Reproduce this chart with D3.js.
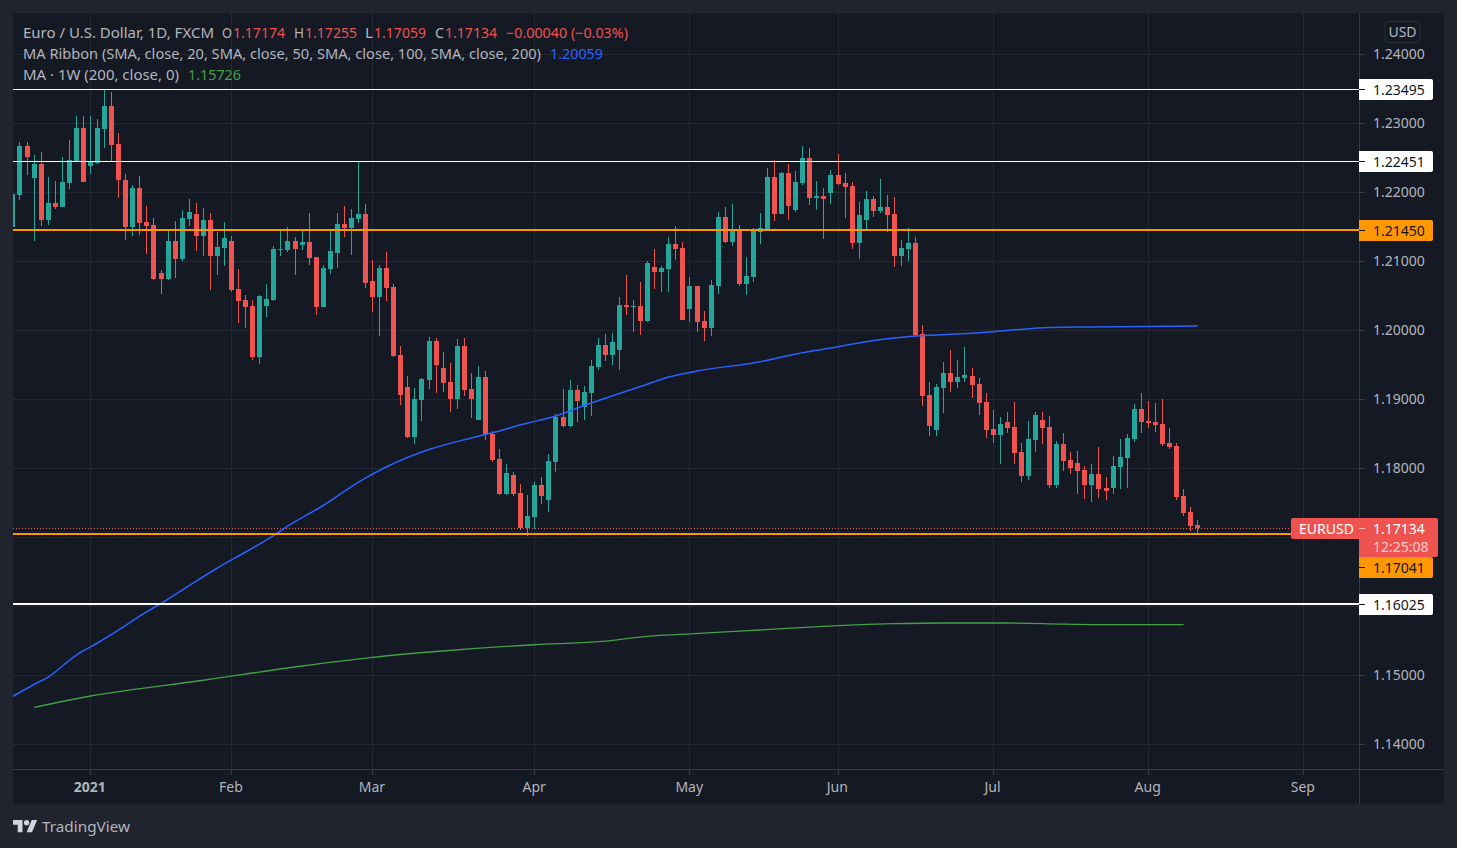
<!DOCTYPE html>
<html>
<head>
<meta charset="utf-8">
<title>EURUSD</title>
<script src="https://cdn.jsdelivr.net/npm/d3@7/dist/d3.min.js"></script>
<style>
  html, body { margin: 0; padding: 0; background: #1f242f; overflow: hidden; }
  svg text { font-family: "Noto Sans", sans-serif; }
</style>
</head>
<body>
<svg id="chart" width="1457" height="848"></svg>
<script>
// daily candles, first one is cut off by the left edge of the pane
const firstIndex = -1;
const opens = [1.21497,1.21961,1.22671,1.22207,1.22410,1.21599,1.21845,1.21787,1.22135,1.22454,1.22932,1.22381,1.22425,1.22917,1.23251,1.22700,1.22178,1.21497,1.22062,1.21570,1.21526,1.20830,1.20743,1.21294,1.21033,1.21613,1.21685,1.21367,1.21599,1.21077,1.21193,1.21294,1.20599,1.20439,1.20352,1.19613,1.20352,
  1.20439,1.21164,1.21164,1.21294,1.21236,1.21280,1.21062,1.20338,1.20888,1.21120,1.21541,1.21483,1.21613,1.21685,1.20714,1.20483,1.20903,1.20628,1.19642,1.19178,1.18454,1.18990,1.19280,1.19845,1.19454,1.19251,1.19004,1.19772,1.19149,1.18700,1.19323,1.18497,1.18135,1.17627,1.17903,1.17642,1.17135,
  1.17294,1.17758,1.17541,1.18091,1.18744,1.18613,1.19135,1.18888,1.19091,1.19468,1.19787,1.19642,1.19714,1.20367,1.20338,1.20352,1.20135,1.20917,1.20845,1.20888,1.21251,1.21193,1.20309,1.20642,1.20135,1.20033,
  1.20642,1.21642,1.21280,1.21468,1.20671,1.20772,1.21425,1.21468,1.22222,1.21686,1.22280,1.21744,1.22135,1.22497,1.21917,1.21946,1.21990,1.22251,1.22135,1.22091,1.21265,1.21599,1.21903,1.21729,1.21787,1.21686,1.21077,1.21178,1.21265,1.19946,1.19062,1.18555,1.19164,1.19381,1.19251,
  1.19309,1.19338,1.19222,1.18961,1.18570,1.18483,1.18671,1.18599,1.18236,1.17888,1.18410,1.18700,1.18599,1.17758,1.18352,1.18120,1.18077,1.17975,1.17758,1.17917,1.17714,1.17714,1.18019,1.18149,1.18425,1.18859,1.18685,1.18671,1.18642,1.18367,1.18323,1.17598,1.17367,1.17174];
const highs = [1.21975,1.22729,1.22729,1.22541,1.22584,1.22222,1.22164,1.22512,1.22758,1.23106,1.23106,1.23106,1.23062,1.23497,1.23454,1.22859,1.22265,1.22106,1.22236,1.21801,1.21628,1.20874,1.21454,1.21584,1.21743,1.21903,1.21845,1.21772,1.21700,1.21425,1.21570,1.21367,1.20888,1.20512,1.20439,1.20512,1.20671,
  1.21217,1.21454,1.21497,1.21352,1.21454,1.21700,1.21062,1.20946,1.21454,1.21700,1.21801,1.21758,1.22439,1.21830,1.21019,1.20946,1.21135,1.20671,1.19772,1.19338,1.19164,1.19309,1.19903,1.19888,1.19685,1.19526,1.19874,1.19888,1.19381,1.19482,1.19410,1.18541,1.18280,1.18062,1.17946,1.17772,1.17613,
  1.17801,1.17874,1.18207,1.18787,1.19149,1.19280,1.19207,1.19193,1.19570,1.19888,1.19946,1.19961,1.20483,1.20801,1.20439,1.20700,1.21004,1.21178,1.20932,1.21352,1.21512,1.21280,1.20773,1.20642,1.20280,1.20729,
  1.21714,1.21787,1.21830,1.21526,1.21062,1.21483,1.21700,1.22352,1.22468,1.22294,1.22410,1.22309,1.22671,1.22642,1.22164,1.22062,1.22323,1.22555,1.22280,1.22149,1.21859,1.22019,1.21946,1.22193,1.21961,1.21932,1.21309,1.21483,1.21352,1.20077,1.19251,1.19222,1.19541,1.19715,1.19570,
  1.19758,1.19454,1.19309,1.19091,1.18845,1.18743,1.18816,1.18961,1.18367,1.18685,1.18816,1.18816,1.18758,1.18396,1.18512,1.18236,1.18251,1.18033,1.18062,1.18309,1.17874,1.18178,1.18425,1.18497,1.18932,1.19091,1.18975,1.18946,1.19004,1.18584,1.18367,1.17700,1.17439,1.17255];
const lows = [1.21497,1.21888,1.22251,1.21294,1.21512,1.21526,1.21758,1.21787,1.22048,1.22439,1.22149,1.22265,1.22410,1.22642,1.22439,1.21917,1.21309,1.21367,1.21381,1.21106,1.20729,1.20526,1.20729,1.20758,1.21004,1.21512,1.21149,1.21077,1.20584,1.20801,1.20932,1.20555,1.20106,1.20033,1.19570,1.19512,1.20193,
  1.20425,1.21077,1.21135,1.20801,1.21164,1.20946,1.20222,1.20338,1.20816,1.20903,1.21352,1.21091,1.21555,1.20613,1.20265,1.19917,1.20425,1.19613,1.18917,1.18439,1.18352,1.18685,1.19149,1.19091,1.19106,1.18816,1.18859,1.19048,1.18729,1.18700,1.18410,1.18091,1.17613,1.17613,1.17598,1.17106,1.17019,
  1.17120,1.17483,1.17367,1.17946,1.18599,1.18599,1.18671,1.18700,1.18758,1.19425,1.19555,1.19497,1.19425,1.20222,1.19975,1.19932,1.20120,1.20599,1.20555,1.20555,1.21019,1.20149,1.20120,1.19975,1.19845,1.19917,
  1.20526,1.21265,1.21222,1.20642,1.20512,1.20700,1.21251,1.21468,1.21584,1.21686,1.21599,1.21714,1.22106,1.21816,1.21744,1.21323,1.21830,1.22106,1.21628,1.21178,1.21033,1.21439,1.21642,1.21700,1.21425,1.20917,1.20932,1.21004,1.19917,1.18903,1.18468,1.18468,1.18801,1.19106,1.19164,
  1.19251,1.19019,1.18772,1.18439,1.18367,1.18062,1.18512,1.18062,1.17801,1.17830,1.18236,1.18352,1.17714,1.17714,1.17961,1.17917,1.17627,1.17555,1.17512,1.17570,1.17541,1.17627,1.17700,1.17714,1.18381,1.18512,1.18584,1.18526,1.18323,1.18280,1.17541,1.17309,1.17091,1.17059];
const closes = [1.21975,1.22671,1.22512,1.22410,1.21599,1.21845,1.21787,1.22149,1.22468,1.22932,1.22149,1.22439,1.22932,1.23251,1.22686,1.22178,1.21497,1.22062,1.21555,1.21512,1.20743,1.20743,1.21294,1.21033,1.21628,1.21714,1.21367,1.21599,1.21077,1.21207,1.21338,1.20584,1.20425,1.20338,1.19613,1.20497,1.20454,
  1.21178,1.21178,1.21294,1.21178,1.21280,1.21048,1.20338,1.20903,1.21149,1.21541,1.21478,1.21628,1.21685,1.20685,1.20483,1.20903,1.20613,1.19627,1.19062,1.18454,1.19004,1.19294,1.19845,1.19497,1.19236,1.19004,1.19772,1.19135,1.19004,1.19323,1.18483,1.18120,1.17627,1.17932,1.17627,1.17135,1.17309,
  1.17758,1.17599,1.18106,1.18744,1.18613,1.19135,1.18975,1.19106,1.19483,1.19787,1.19642,1.19830,1.20367,1.20338,1.20352,1.20135,1.20975,1.20845,1.20903,1.21251,1.21178,1.20149,1.20642,1.20120,1.20033,1.20657,
  1.21642,1.21280,1.21468,1.20671,1.20787,1.21454,1.21483,1.22222,1.21686,1.22280,1.21802,1.22149,1.22497,1.21917,1.21946,1.21903,1.22251,1.22120,1.22077,1.21265,1.21671,1.21903,1.21729,1.21787,1.21671,1.21077,1.21193,1.21265,1.19932,1.19048,1.18613,1.19178,1.19381,1.19251,1.19323,
  1.19352,1.19207,1.18946,1.18555,1.18483,1.18642,1.18584,1.18222,1.17888,1.18425,1.18772,1.18584,1.17758,1.18352,1.18106,1.18004,1.17961,1.17758,1.17917,1.17700,1.17671,1.18033,1.18164,1.18439,1.18859,1.18671,1.18657,1.18628,1.18352,1.18309,1.17584,1.17352,1.17164,1.17134];

// MA ribbon (the 200 SMA, only one that shows) and the weekly MA
const ribbonIndex = [-1,2,4,8,11,15,17,20,24,28,32,36,38,43,48,52,58,64,67,72,75,81,88,92,96,105,110,116,120,127,135,140,146,152,160,167];
const ribbonValues = [1.14696,1.14867,1.14975,1.15294,1.15468,1.15722,1.15860,1.16041,1.16301,1.16555,1.16787,1.17029,1.17164,1.17461,1.17801,1.18023,1.18272,1.18439,1.18516,1.18657,1.18729,1.18946,1.19186,1.19323,1.19410,1.19545,1.19657,1.19762,1.19835,1.19917,1.19957,1.19997,1.20041,1.20048,1.20055,1.20062];
const weeklyIndex = [2,10,26,40,50,59,73,82,89,95,110,116,124,131,140,148,155,165];
const weeklyValues = [1.14536,1.14700,1.14928,1.15135,1.15261,1.15345,1.15443,1.15487,1.15565,1.15599,1.15686,1.15719,1.15748,1.15758,1.15758,1.15743,1.15733,1.15733];

const gridPrices = [1.24,1.23,1.22,1.21,1.20,1.19,1.18,1.17,1.16,1.15,1.14];
// 1.17 and 1.16 have no axis text, the level labels sit on top of them
const priceTicks = [1.24,1.23,1.22,1.21,1.20,1.19,1.18,1.15,1.14];
const monthIndex = [10,30,50,73,95,116,138,160,182];
const monthLabels = ["2021","Feb","Mar","Apr","May","Jun","Jul","Aug","Sep"];

const whiteLevels = [1.23495,1.22451,1.16025];
const orangeLevels = [1.21450,1.17041];
const lastPrice = 1.17134;

const bgPane = "#151924", gridColor = "#242833", textColor = "#b2b5be";
const upColor = "#26a69a", downColor = "#ef5350", orange = "#ff9800";

const svg = d3.select("#chart");
const paneLeft = 13, paneTop = 13, paneRight = 1444, paneBottom = 804, plotRight = 1359, plotBottom = 769;

const x = d3.scaleLinear().domain([10, 182]).range([90.5, 1303.5]);
const y = d3.scaleLinear().domain([1.24, 1.14]).range([54.3, 744.3]);
const crisp = v => Math.floor(v) + 0.5;

svg.append("rect").attr("x", paneLeft).attr("y", paneTop)
  .attr("width", paneRight - paneLeft).attr("height", paneBottom - paneTop).attr("fill", bgPane);

svg.append("clipPath").attr("id", "plot").append("rect")
  .attr("x", paneLeft).attr("y", paneTop)
  .attr("width", plotRight - paneLeft).attr("height", plotBottom - paneTop);

// grid
const grid = svg.append("g").attr("stroke", gridColor).attr("stroke-width", 1);
gridPrices.forEach(p => {
  grid.append("line").attr("x1", paneLeft).attr("x2", plotRight)
    .attr("y1", crisp(y(p))).attr("y2", crisp(y(p)));
});
monthIndex.forEach(i => {
  grid.append("line").attr("y1", paneTop).attr("y2", plotBottom)
    .attr("x1", crisp(x(i))).attr("x2", crisp(x(i)));
});

// candles
const candles = opens.map((o, k) => ({ i: k + firstIndex, o: o, h: highs[k], l: lows[k], c: closes[k] }));
const plot = svg.append("g").attr("clip-path", "url(#plot)");
const candle = plot.append("g").attr("shape-rendering", "crispEdges")
  .selectAll("g").data(candles).join("g")
  .attr("fill", d => d.c >= d.o ? upColor : downColor);
candle.append("rect")
  .attr("x", d => Math.floor(x(d.i)))
  .attr("width", 1)
  .attr("y", d => Math.round(y(d.h)))
  .attr("height", d => Math.max(1, Math.round(y(d.l)) - Math.round(y(d.h))));
candle.append("rect")
  .attr("x", d => Math.floor(x(d.i)) - 2)
  .attr("width", 5)
  .attr("y", d => Math.round(y(Math.max(d.o, d.c))))
  .attr("height", d => Math.max(1, Math.round(y(Math.min(d.o, d.c))) - Math.round(y(Math.max(d.o, d.c)))));

// moving averages
const ribbonLine = d3.line().x((d, k) => x(ribbonIndex[k])).y(d => y(d)).curve(d3.curveMonotoneX);
const weeklyLine = d3.line().x((d, k) => x(weeklyIndex[k])).y(d => y(d)).curve(d3.curveMonotoneX);
plot.append("path").attr("d", ribbonLine(ribbonValues))
  .attr("fill", "none").attr("stroke", "#2962ff").attr("stroke-width", 1.5);
plot.append("path").attr("d", weeklyLine(weeklyValues))
  .attr("fill", "none").attr("stroke", "#43a047").attr("stroke-width", 1.3);

// horizontal levels
const levels = plot.append("g").attr("shape-rendering", "crispEdges");
levels.append("line").attr("x1", paneLeft).attr("x2", plotRight)
  .attr("y1", crisp(y(lastPrice))).attr("y2", crisp(y(lastPrice)))
  .attr("stroke", downColor).attr("stroke-dasharray", "1 2");
whiteLevels.forEach((p, k) => {
  const ly = k == 2 ? Math.floor(y(p)) : crisp(y(p));
  levels.append("line").attr("x1", paneLeft).attr("x2", plotRight)
    .attr("y1", ly).attr("y2", ly)
    .attr("stroke", "#ffffff").attr("stroke-width", k == 2 ? 2 : 1);
});
orangeLevels.forEach(p => {
  levels.append("line").attr("x1", paneLeft).attr("x2", plotRight)
    .attr("y1", Math.round(y(p))).attr("y2", Math.round(y(p)))
    .attr("stroke", orange).attr("stroke-width", 2);
});

// axes
const styleAxis = g => {
  g.select(".domain").remove();
  g.selectAll("line").attr("stroke", "#363a45").attr("shape-rendering", "crispEdges");
  g.selectAll("text").attr("fill", textColor).style("font-size", "14px");
};
svg.append("g").attr("transform", `translate(${plotRight},0)`)
  .call(d3.axisRight(y).tickValues(priceTicks).tickFormat(d3.format(".5f")).tickSize(6).tickPadding(8).offset(0.2))
  .call(styleAxis);
svg.append("g").attr("transform", `translate(0,${plotBottom})`)
  .call(d3.axisBottom(x).tickValues(monthIndex).tickFormat((d, k) => monthLabels[k]).tickSize(6).tickPadding(7).offset(0))
  .call(styleAxis)
  .call(g => g.selectAll("text").attr("dx", "-0.7"))
  .call(g => g.selectAll("text").filter((d, k) => k == 0).attr("font-weight", "bold").style("font-weight", "bold"));

const axisLines = svg.append("g").attr("stroke", "#363a45").attr("shape-rendering", "crispEdges");
axisLines.append("line").attr("x1", paneLeft).attr("x2", paneRight).attr("y1", plotBottom + 0.5).attr("y2", plotBottom + 0.5);
axisLines.append("line").attr("x1", plotRight + 0.5).attr("x2", plotRight + 0.5).attr("y1", paneTop).attr("y2", paneBottom);

// USD button
svg.append("rect").attr("x", 1385).attr("y", 21.5).attr("width", 35).attr("height", 21).attr("rx", 4)
  .attr("fill", "none").attr("stroke", "#2a2e39");
svg.append("text").attr("x", 1402.5).attr("y", 37).attr("text-anchor", "middle")
  .attr("fill", textColor).style("font-size", "14px").text("USD");

// price labels on the axis, shift moves a label out of the way of the last price flag
function priceLabel(p, bg, shift) {
  const cy = crisp(y(p)) + (shift || 0);
  svg.append("path")
    .attr("d", `M${plotRight},${cy - 10.5}h72a2,2 0 0 1 2,2v17a2,2 0 0 1 -2,2h-72z`)
    .attr("fill", bg);
  svg.append("line").attr("x1", plotRight).attr("x2", plotRight + 6).attr("y1", cy).attr("y2", cy)
    .attr("stroke", "#131722").attr("shape-rendering", "crispEdges");
  svg.append("text").attr("x", 1373).attr("y", cy + 5).attr("fill", "#131722")
    .style("font-size", "14px").text(d3.format(".5f")(p));
}
whiteLevels.forEach(p => priceLabel(p, "#ffffff"));
priceLabel(orangeLevels[0], orange);
priceLabel(orangeLevels[1], orange, 33);

// last price flag with countdown
const flagTop = 518;
svg.append("path")
  .attr("d", `M1293,${flagTop}h143a2,2 0 0 1 2,2v35a2,2 0 0 1 -2,2h-77v-18h-66a2,2 0 0 1 -2,-2v-17a2,2 0 0 1 2,-2z`)
  .attr("fill", downColor);
svg.append("text").attr("x", 1299).attr("y", 534).attr("fill", "#ffffff").style("font-size", "14px").text("EURUSD");
svg.append("line").attr("x1", plotRight).attr("x2", plotRight + 6).attr("y1", 528.5).attr("y2", 528.5)
  .attr("stroke", "rgba(255,255,255,0.6)").attr("shape-rendering", "crispEdges");
svg.append("text").attr("x", 1373).attr("y", 534).attr("fill", "#ffffff").style("font-size", "14px").text(d3.format(".5f")(lastPrice));
svg.append("text").attr("x", 1373).attr("y", 552).attr("fill", "rgba(255,255,255,0.72)").style("font-size", "14px").text("12:25:08");

// legend
const headerRows = [
  { y: 38, parts: [["Euro / U.S. Dollar, 1D, FXCM", 23, 191, textColor], ["O", 222, 10, textColor], ["1.17174", 233, 52, downColor],
    ["H", 294, 10, textColor], ["1.17255", 305, 52, downColor], ["L", 365, 8, textColor], ["1.17059", 374, 52, downColor],
    ["C", 435, 9, textColor], ["1.17134", 445, 52, downColor], ["\u22120.00040 (\u22120.03%)", 506, 122, downColor]] },
  { y: 59, parts: [["MA Ribbon (SMA, close, 20, SMA, close, 50, SMA, close, 100, SMA, close, 200)", 23, 518, textColor], ["1.20059", 550, 53, "#2962ff"]] },
  { y: 80, parts: [["MA \u00b7 1W (200, close, 0)", 23, 156, textColor], ["1.15726", 188, 53, "#43a047"]] }
];
headerRows.forEach(row => {
  row.parts.forEach(part => {
    svg.append("text").attr("x", part[1]).attr("y", row.y)
      .attr("textLength", part[2]).attr("lengthAdjust", "spacingAndGlyphs")
      .attr("fill", part[3]).style("font-size", "14px").text(part[0]);
  });
});

// logo
const logo = svg.append("g").attr("transform", "translate(13,817.3) scale(0.68)").attr("fill", "#d1d4dc");
logo.append("path").attr("d", "M14 22H7V11H0V4h14v18zM28 22h-8l7.5-18h8L28 22z");
logo.append("circle").attr("cx", 20).attr("cy", 8).attr("r", 4);
svg.append("text").attr("x", 42).attr("y", 832).attr("fill", textColor)
  .attr("textLength", 88).attr("lengthAdjust", "spacingAndGlyphs")
  .style("font-size", "15px").text("TradingView");
</script>
</body>
</html>
